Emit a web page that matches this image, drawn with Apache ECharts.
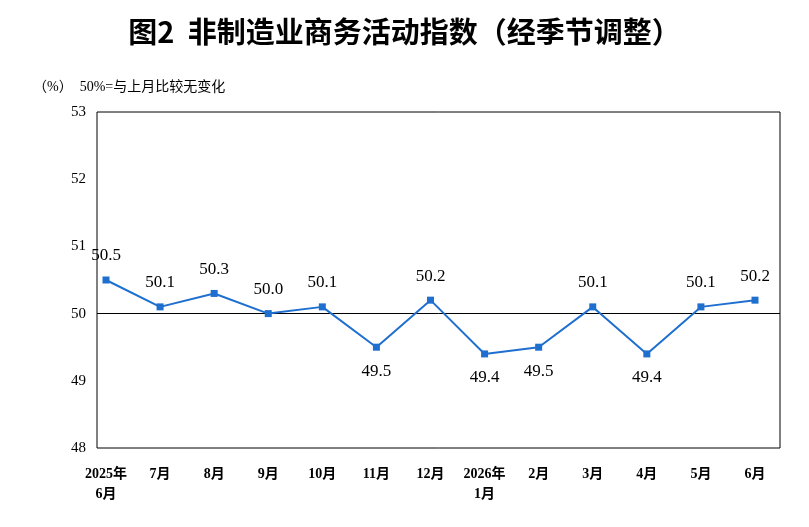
<!DOCTYPE html>
<html><head><meta charset="utf-8">
<script src="https://cdn.jsdelivr.net/npm/echarts@6/dist/echarts.min.js"></script>
<style>html,body{margin:0;padding:0;background:#fff}#c{width:809px;height:527px}</style>
</head><body><div id="c"></div>
<script>
const categories = ['2025年\n6月','7月','8月','9月','10月','11月','12月','2026年\n1月','2月','3月','4月','5月','6月'];
const values = [50.5,50.1,50.3,50.0,50.1,49.5,50.2,49.4,49.5,50.1,49.4,50.1,50.2];
const labelPos = ['top','top','top','top','top','bottom','top','bottom','bottom','top','bottom','top','top'];
const chart = echarts.init(document.getElementById('c'));
const font = '"Liberation Serif","Noto Sans CJK SC",serif';
chart.setOption({
  animation:false,
  title:[{text:'图2  非制造业商务活动指数（经季节调整）',left:'center',top:12,textStyle:{fontFamily:'"Noto Sans CJK SC"',fontSize:29,fontWeight:'bold',color:'#000'}},
         {text:'（%）  50%=与上月比较无变化',left:28,top:75,textStyle:{fontFamily:font,fontSize:14,fontWeight:'normal',color:'#000'}}],
  grid:[{left:106,right:54,top:112,bottom:79},
        {left:97,right:29,top:112,bottom:79,show:true,borderColor:'#000',borderWidth:1}],
  xAxis:[{type:'category',gridIndex:0,data:categories,boundaryGap:false,axisLine:{show:false},axisTick:{show:false},
          axisLabel:{interval:0,color:'#000',fontFamily:font,fontSize:14,margin:16,lineHeight:20,fontWeight:'bold'}},
         {type:'value',gridIndex:1,show:false,min:0,max:1}],
  yAxis:[{type:'value',gridIndex:0,min:48,max:53,interval:1,axisLine:{show:false},axisTick:{show:false},splitLine:{show:false},
          axisLabel:{color:'#000',fontFamily:font,fontSize:15,margin:20}},
         {type:'value',gridIndex:1,min:48,max:53,interval:1,axisLine:{show:false},axisTick:{show:false},axisLabel:{show:false},
          splitLine:{show:true,lineStyle:{color:['transparent','transparent','#000','transparent','transparent','transparent'],width:1}}}],
  series:[{type:'line',xAxisIndex:0,yAxisIndex:0,data:values.map((v,i)=>({value:v,label:{position:labelPos[i]}})),
    symbol:'rect',symbolSize:7,lineStyle:{color:'#1f6fcf',width:2},itemStyle:{color:'#1f6fcf'},
    label:{show:true,distance:12,color:'#000',fontFamily:font,fontSize:17,formatter:p=>p.value.toFixed(1)}}]
});
</script></body></html>
